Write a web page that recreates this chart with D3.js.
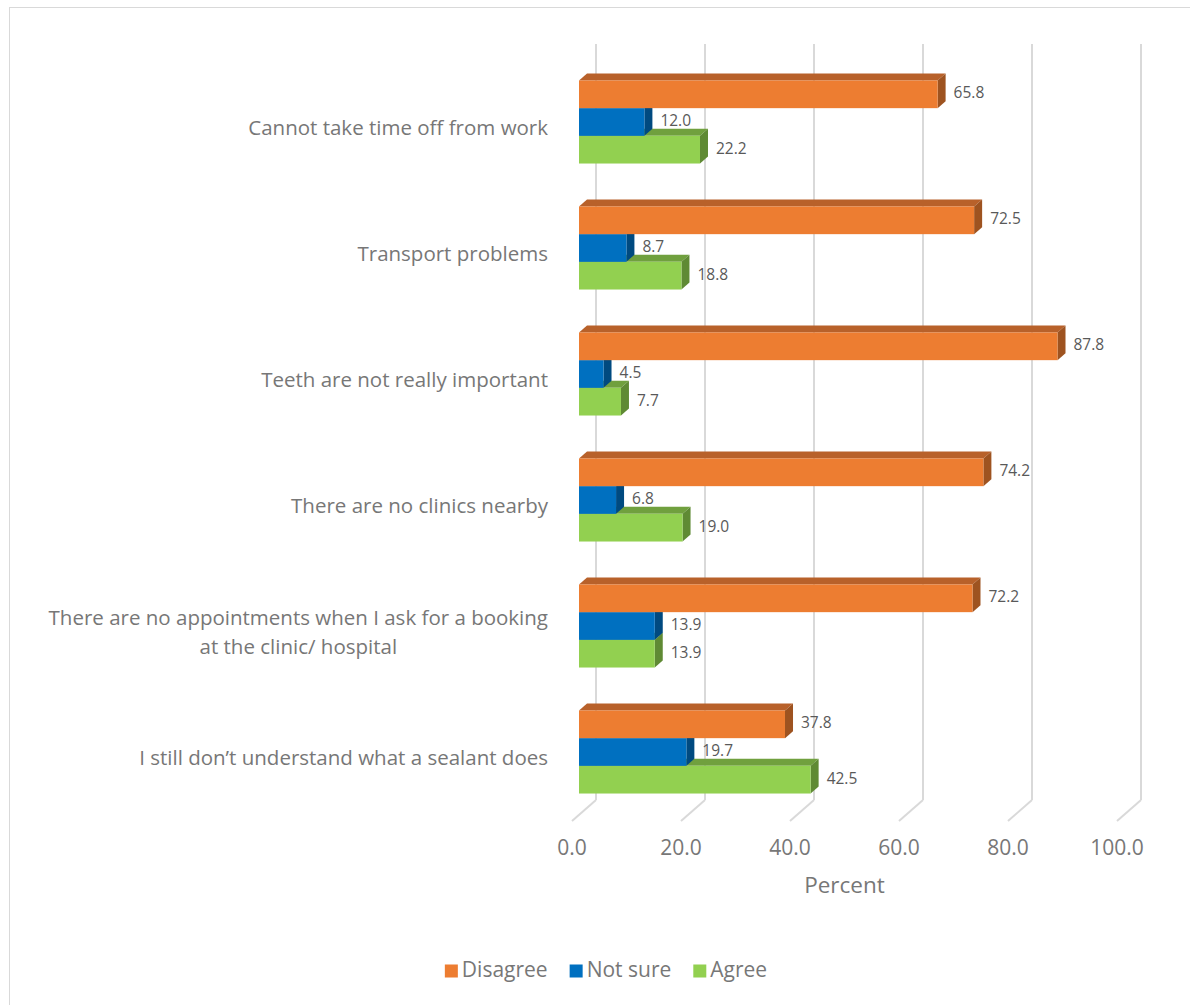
<!DOCTYPE html>
<html>
<head>
<meta charset="utf-8">
<script src="https://cdn.jsdelivr.net/npm/d3@7"></script>
<style>
  html, body { margin: 0; padding: 0; background: #ffffff; }
  svg { display: block; }
  text { font-family: "Open Sans", "Noto Sans", sans-serif; fill: #777777; }
</style>
</head>
<body>
<script>
// ---- Data ----
const categories = [
  "Cannot take time off from work",
  "Transport problems",
  "Teeth are not really important",
  "There are no clinics nearby",
  "There are no appointments when I ask for a booking at the clinic/ hospital",
  "I still don\u2019t understand what a sealant does"
];
const seriesNames = ["Disagree", "Not sure", "Agree"];
const disagree = [65.8, 72.5, 87.8, 74.2, 72.2, 37.8];
const notSure  = [12.0, 8.7, 4.5, 6.8, 13.9, 19.7];
const agree    = [22.2, 18.8, 7.7, 19.0, 13.9, 42.5];
const xTicks   = [0, 20, 40, 60, 80, 100];
const axisTitle = "Percent";

// ---- Styles ----
const seriesValues = [disagree, notSure, agree];
const colors = {
  "Disagree": { front: "#ED7D31", top: "#B8612A", side: "#9E5320" },
  "Not sure": { front: "#0070C0", top: "#005796", side: "#004A80" },
  "Agree":    { front: "#92D050", top: "#70A03E", side: "#5F8A34" }
};

const W = 1190, H = 1005;
const svg = d3.select("body").append("svg").attr("width", W).attr("height", H);

// chart border
svg.append("rect").attr("x", 9.5).attr("y", 7.5).attr("width", 1300).attr("height", 1200)
  .attr("fill", "none").attr("stroke", "#d9d9d9").attr("stroke-width", 1);

// back-plane scales
const x = d3.scaleLinear().domain([0, 100]).range([596, 1141]);
const y = d3.scaleBand().domain(categories).range([44, 800]).padding(0);
const sub = d3.scaleBand().domain(seriesNames).range([0, y.bandwidth()])
  .paddingInner(0).paddingOuter(0.776);

const FLOOR = { dx: -24, dy: 21 };  // back wall -> front edge of floor
const FRONT = { dx: -17, dy: 15 };  // back wall -> bar front face
const DEPTH = { dx: 8, dy: -7 };    // bar front face -> bar back face

const grid = svg.append("g");
xTicks.forEach(t => {
  grid.append("line").attr("x1", x(t)).attr("x2", x(t)).attr("y1", 44).attr("y2", 800)
    .attr("stroke", "#d9d9d9").attr("stroke-width", 2);
  grid.append("line").attr("x1", x(t)).attr("x2", x(t) + FLOOR.dx)
    .attr("y1", 800).attr("y2", 800 + FLOOR.dy)
    .attr("stroke", "#d9d9d9").attr("stroke-width", 2);
});

// tick labels
const fmt = d3.format(".1f");
svg.append("g").selectAll("text").data(xTicks).join("text")
  .attr("x", d => x(d) + FLOOR.dx)
  .attr("y", 849)
  .attr("text-anchor", "middle")
  .attr("dominant-baseline", "middle")
  .style("font-size", "21px")
  .text(d => fmt(d));

svg.append("text").attr("x", (x(0) + x(100)) / 2 + FLOOR.dx).attr("y", 887)
  .attr("text-anchor", "middle").attr("dominant-baseline", "middle")
  .style("font-size", "22.5px").text(axisTitle);

// category labels (wrapped)
const catG = svg.append("g");
const catSize = 20.5;
function measure(str, size) {
  const tmp = svg.append("text").style("font-size", size + "px").text(str);
  const w = tmp.node().getComputedTextLength();
  tmp.remove();
  return w;
}
function wrapWords(str, maxW, size) {
  const words = str.split(" ");
  const lines = [];
  let cur = "";
  words.forEach(w => {
    const test = cur ? cur + " " + w : w;
    if (measure(test, size) > maxW && cur) { lines.push(cur); cur = w; }
    else cur = test;
  });
  if (cur) lines.push(cur);
  return lines;
}
categories.forEach(c => {
  const lines = wrapWords(c, 515, catSize);
  const cy = y(c) + y.bandwidth() / 2 + FLOOR.dy + 2;
  const lh = 29;
  const widths = lines.map(l => measure(l, catSize));
  const blockW = d3.max(widths);
  const right = 548;
  lines.forEach((l, i) => {
    catG.append("text")
      .attr("x", right - blockW / 2)
      .attr("y", cy + (i - (lines.length - 1) / 2) * lh)
      .attr("text-anchor", "middle")
      .attr("dominant-baseline", "middle")
      .style("font-size", catSize + "px")
      .text(l);
  });
});

// value labels (drawn before bars so bar faces can overlap them)
const labelG = svg.append("g");
const barsG = svg.append("g");

categories.forEach((c, ci) => {
  seriesNames.forEach((s, si) => {
    const v = seriesValues[si][ci];
    const fy = y(c) + sub(s) + FRONT.dy;
    const h = sub.bandwidth();
    labelG.append("text")
      .attr("x", x(v) + FRONT.dx + 16)
      .attr("y", fy + h / 2)
      .attr("dominant-baseline", "middle")
      .style("font-size", "15.5px")
      .style("fill", "#595959")
      .text(fmt(v));
  });
  // bars bottom-to-top for correct occlusion
  seriesNames.slice().reverse().forEach(s => {
    const si = seriesNames.indexOf(s);
    const v = seriesValues[si][ci];
    const x0 = x(0) + FRONT.dx, x1 = x(v) + FRONT.dx;
    const fy = y(c) + sub(s) + FRONT.dy;
    const h = sub.bandwidth();
    const col = colors[s];
    const g = barsG.append("g");
    g.append("polygon")
      .attr("points", [[x0, fy], [x1, fy], [x1 + DEPTH.dx, fy + DEPTH.dy], [x0 + DEPTH.dx, fy + DEPTH.dy]].map(p => p.join(",")).join(" "))
      .attr("fill", col.top);
    g.append("polygon")
      .attr("points", [[x1, fy], [x1 + DEPTH.dx, fy + DEPTH.dy], [x1 + DEPTH.dx, fy + h + DEPTH.dy], [x1, fy + h]].map(p => p.join(",")).join(" "))
      .attr("fill", col.side);
    g.append("rect").attr("x", x0).attr("y", fy).attr("width", x1 - x0).attr("height", h)
      .attr("fill", col.front);
  });
});

// legend
const legendG = svg.append("g");
const legSize = 21;
const legW = seriesNames.map(s => measure(s, legSize));
const sq = 13, gapSq = 4, gapItem = 22;
const total = d3.sum(legW) + seriesNames.length * (sq + gapSq) + gapItem * (seriesNames.length - 1);
let lx = 606 - total / 2;
const ly = 971;
seriesNames.forEach((s, i) => {
  legendG.append("rect").attr("x", lx).attr("y", ly - sq / 2).attr("width", sq).attr("height", sq)
    .attr("fill", colors[s].front);
  legendG.append("text").attr("x", lx + sq + gapSq).attr("y", ly)
    .attr("dominant-baseline", "middle").style("font-size", legSize + "px").text(s);
  lx += sq + gapSq + legW[i] + gapItem;
});
</script>
</body>
</html>
